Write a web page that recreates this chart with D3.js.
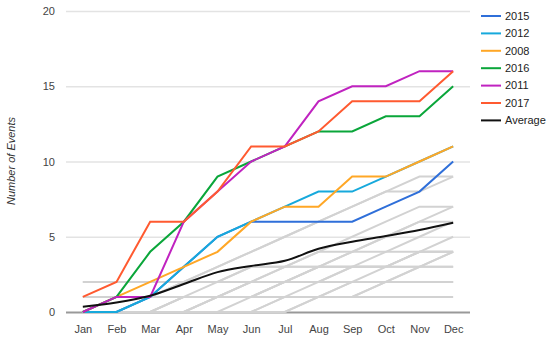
<!DOCTYPE html>
<html>
<head>
<meta charset="utf-8">
<script src="https://d3js.org/d3.v7.min.js"></script>
<style>
body { margin: 0; background: #fff; }
svg text { font-family: "Liberation Sans", Arial, sans-serif; }
.tick text { font-size: 11px; fill: #444; }
.legend text { font-size: 11px; fill: #222; }
</style>
</head>
<body>
<svg width="550" height="340"></svg>
<script>
var months = ["Jan", "Feb", "Mar", "Apr", "May", "Jun", "Jul", "Aug", "Sep", "Oct", "Nov", "Dec"];
var yTicks = [0, 5, 10, 15, 20];

// highlighted years
var names  = ["2015", "2012", "2008", "2016", "2011", "2017"];
var colors = ["#2f6fd9", "#17a9dc", "#ffa726", "#0aa63a", "#c023c0", "#ff5a30"];
var y2015 = [0, 0, 1, 3, 5, 6, 6, 6, 6, 7, 8, 10];
var y2012 = [0, 0, 1, 3, 5, 6, 7, 8, 8, 9, 10, 11];
var y2008 = [0, 1, 2, 3, 4, 6, 7, 7, 9, 9, 10, 11];
var y2016 = [0, 1, 4, 6, 9, 10, 11, 12, 12, 13, 13, 15];
var y2011 = [0, 1, 1, 6, 8, 10, 11, 14, 15, 15, 16, 16];
var y2017 = [1, 2, 6, 6, 8, 11, 11, 12, 14, 14, 14, 16];
var average = [0.35, 0.63, 1.08, 1.86, 2.65, 3.06, 3.4, 4.2, 4.67, 5.05, 5.45, 5.93];

// other years (grey)
var others = [
  [2, 2, 2, 2, 2, 2, 2, 3, 4, 5, 6, 7],
  [1, 1, 1, 1, 1, 1, 1, 1, 1, 1, 1, 1],
  [0, 0, 1, 1, 1, 1, 1, 1, 2, 2, 2, 2],
  [0, 0, 0, 1, 2, 3, 3, 3, 3, 3, 3, 3],
  [0, 0, 0, 0, 1, 2, 3, 4, 4, 4, 4, 4],
  [0, 0, 1, 2, 3, 4, 5, 6, 7, 8, 8, 9],
  [1, 1, 1, 2, 3, 4, 5, 6, 7, 8, 9, 9],
  [0, 0, 0, 1, 1, 2, 3, 4, 5, 6, 7, 7],
  [0, 0, 0, 0, 1, 1, 2, 3, 4, 5, 6, 6],
  [0, 0, 0, 0, 0, 1, 2, 3, 3, 4, 5, 6],
  [0, 0, 0, 0, 0, 0, 1, 2, 3, 3, 4, 5],
  [0, 0, 0, 0, 0, 0, 0, 1, 2, 2, 3, 4],
  [0, 0, 0, 1, 1, 2, 2, 2, 3, 3, 3, 4],
  [0, 0, 0, 0, 1, 1, 2, 2, 2, 3, 4, 4],
  [2, 2, 2, 2, 2, 3, 3, 3, 3, 3, 4, 4],
  [0, 0, 0, 0, 0, 0, 1, 1, 1, 2, 3, 3],
  [0, 0, 0, 0, 0, 0, 0, 1, 1, 2, 2, 2]
];

var highlighted = [y2015, y2012, y2008, y2016, y2011, y2017];

var svg = d3.select("svg");

var x = d3.scalePoint().domain(months).range([66, 470]).padding(0.5);
var y = d3.scaleLinear().domain([0, 20]).range([312, 11]);

// gridlines + y labels
var yAxis = svg.append("g")
    .attr("transform", "translate(66,0)")
    .call(d3.axisLeft(y).tickValues(yTicks).tickSize(-404).tickPadding(11));
yAxis.select(".domain").remove();
yAxis.selectAll(".tick line").attr("stroke", "#e3e3e3").attr("stroke-width", 1.5);
yAxis.selectAll(".tick").filter(function(d) { return d === 0; }).select("line")
    .attr("stroke", "#999").attr("stroke-width", 2);

// x labels
var xAxis = svg.append("g")
    .attr("transform", "translate(0,312)")
    .call(d3.axisBottom(x).tickSize(0).tickPadding(13));
xAxis.select(".domain").remove();

svg.append("text")
    .attr("transform", "translate(15,161) rotate(-90)")
    .attr("text-anchor", "middle")
    .style("font-size", "11px")
    .style("font-style", "italic")
    .attr("fill", "#333")
    .text("Number of Events");

var line = d3.line()
    .x(function(d, i) { return x(months[i]); })
    .y(function(d) { return y(d); });

svg.append("g").selectAll("path")
    .data(others)
  .enter().append("path")
    .attr("d", line)
    .attr("fill", "none")
    .attr("stroke", "#d2d2d2")
    .attr("stroke-width", 2);

svg.append("g").selectAll("path")
    .data(highlighted)
  .enter().append("path")
    .attr("d", line)
    .attr("fill", "none")
    .attr("stroke", function(d, i) { return colors[i]; })
    .attr("stroke-width", 2);

svg.append("path")
    .attr("d", line.curve(d3.curveMonotoneX)(average))
    .attr("fill", "none")
    .attr("stroke", "#111")
    .attr("stroke-width", 2);

// legend
var legendNames = names.concat(["Average"]);
var legendColors = colors.concat(["#111"]);
var legend = svg.append("g").attr("class", "legend")
    .selectAll("g")
    .data(legendNames)
  .enter().append("g")
    .attr("transform", function(d, i) { return "translate(481," + (16 + i * 17.4) + ")"; });

legend.append("line")
    .attr("x1", 0).attr("x2", 20)
    .attr("stroke", function(d, i) { return legendColors[i]; })
    .attr("stroke-width", 2);

legend.append("text")
    .attr("x", 24)
    .attr("dy", "0.35em")
    .text(function(d) { return d; });
</script>
</body>
</html>
